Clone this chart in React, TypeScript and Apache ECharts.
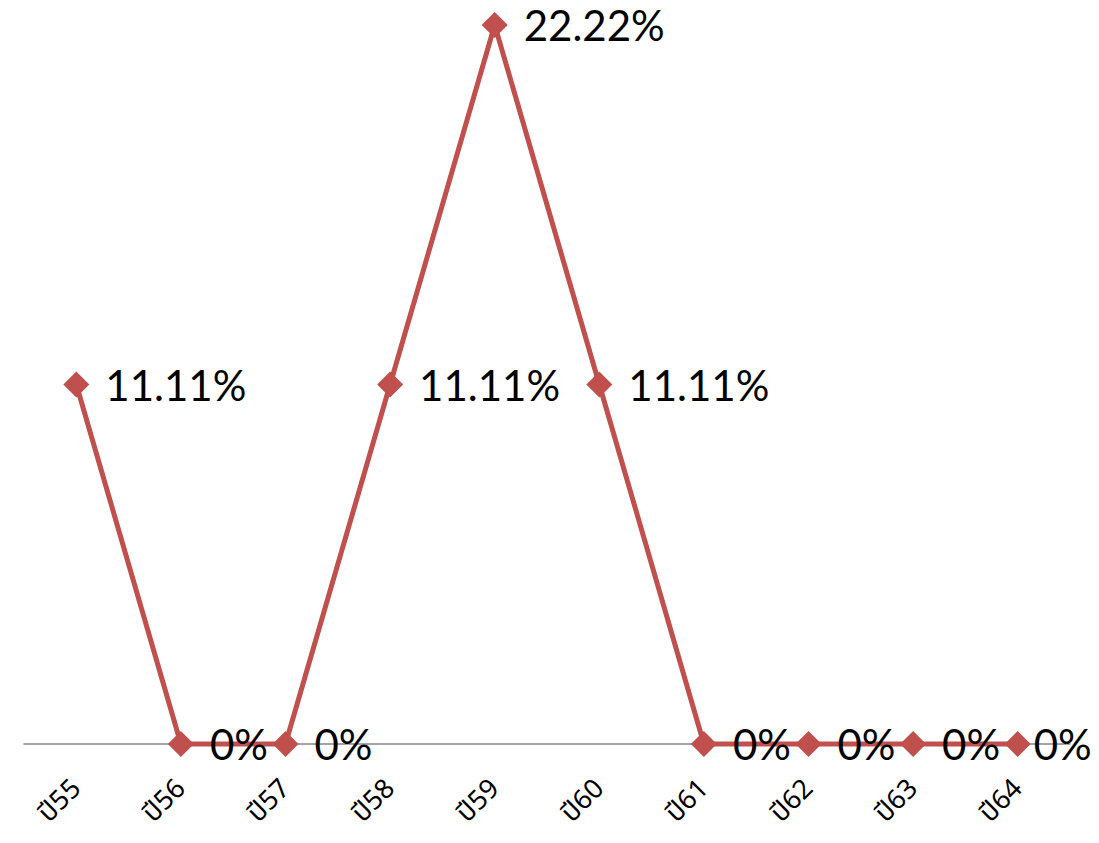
import React, { useEffect, useRef } from "react";
import * as echarts from "echarts";

const categories = ["ปี55", "ปี56", "ปี57", "ปี58", "ปี59", "ปี60", "ปี61", "ปี62", "ปี63", "ปี64"];
const values = [11.11, 0, 0, 11.11, 22.22, 11.11, 0, 0, 0, 0];

export default function App() {
  const ref = useRef<HTMLDivElement>(null);
  useEffect(() => {
    if (!ref.current) return;
    const chart = echarts.init(ref.current, null, { renderer: "svg" });
    const last = values.length - 1;
    chart.setOption({
      animation: false,
      backgroundColor: "#ffffff",
      grid: { left: 24, right: 29, top: 25, bottom: 99, containLabel: false },
      xAxis: {
        type: "category",
        data: categories,
        boundaryGap: true,
        axisLine: { show: true, lineStyle: { color: "#868686", width: 1.5 } },
        axisTick: { show: false },
        axisLabel: {
          rotate: 45,
          margin: 40,
          fontSize: 27,
          color: "#000000",
          fontWeight: "normal",
          fontFamily: "'Noto Sans Thai', 'DejaVu Sans', 'Noto Sans', sans-serif",
        },
        splitLine: { show: false },
      },
      yAxis: {
        type: "value",
        min: 0,
        max: 22.22,
        show: false,
        splitLine: { show: false },
      },
      series: [
        {
          type: "line",
          data: values.map((v, i) =>
            i === last ? { value: v, label: { distance: 3 } } : v
          ),
          symbol: "diamond",
          symbolSize: 26,
          clip: false,
          lineStyle: { color: "#C0504D", width: 5 },
          itemStyle: { color: "#C0504D" },
          label: {
            show: true,
            position: "right",
            distance: 16,
            fontSize: 42,
            color: "#000000",
            fontFamily: "Lato, 'Open Sans', sans-serif",
            formatter: (p: any) => `${p.value}%`,
          },
        },
      ],
    });
    return () => chart.dispose();
  }, []);
  return (
    <div
      ref={ref}
      style={{ position: "fixed", left: 0, top: 0, width: 1099, height: 843 }}
    />
  );
}
